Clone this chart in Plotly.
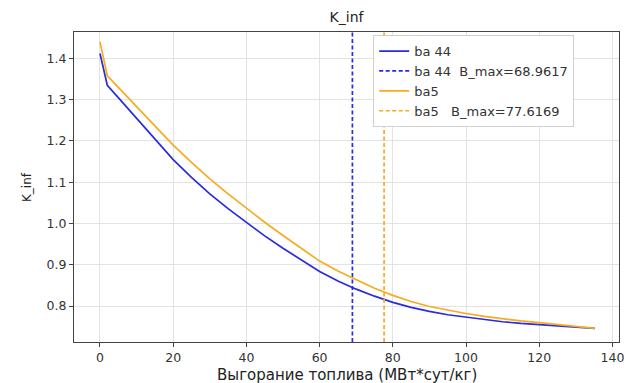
import plotly.graph_objects as go

# Burnup (MWd/kg) and k_inf values
burnup = [0, 2, 5, 10, 15, 20, 25, 30, 35, 40, 45, 50, 55, 60, 65, 70, 75,
          80, 85, 90, 95, 100, 105, 110, 115, 120, 125, 130, 135.2]
kinf_ba44 = [1.412, 1.335, 1.305, 1.255, 1.204, 1.155, 1.112, 1.072, 1.036, 1.002,
             0.970, 0.940, 0.911, 0.884, 0.861, 0.841, 0.824, 0.809, 0.797, 0.787,
             0.779, 0.773, 0.767, 0.762, 0.758, 0.755, 0.752, 0.749, 0.746]
kinf_ba5 = [1.440, 1.358, 1.330, 1.283, 1.235, 1.190, 1.148, 1.108, 1.072, 1.037,
            1.003, 0.971, 0.940, 0.909, 0.885, 0.863, 0.843, 0.826, 0.811, 0.799,
            0.790, 0.782, 0.775, 0.769, 0.764, 0.760, 0.755, 0.750, 0.746]
bmax_ba44 = 68.9617
bmax_ba5 = 77.6169

names = ["ba 44", "ba 44  B_max=68.9617", "ba5", "ba5   B_max=77.6169"]
yticks = [0.8, 0.9, 1.0, 1.1, 1.2, 1.3, 1.4]
xticks = [0, 20, 40, 60, 80, 100, 120, 140]
x_title = "Выгорание топлива (МВт*сут/кг)"
y_title = "K_inf"

BLUE = "#2a2ae0"
ORANGE = "#f7ab1f"
Y_RANGE = [0.713, 1.464]
DASH = "4px,2.5px"

W, H = 635, 383
ML, MR, MT, MB = 74, 16, 32, 41
PW, PH = W - ML - MR, H - MT - MB

fig = go.Figure()
fig.add_trace(go.Scatter(x=burnup, y=kinf_ba44, mode="lines", name=names[0],
                         line=dict(color=BLUE, width=1.7)))
fig.add_trace(go.Scatter(x=[bmax_ba44, bmax_ba44], y=Y_RANGE, mode="lines", name=names[1],
                         line=dict(color=BLUE, width=1.7, dash=DASH)))
fig.add_trace(go.Scatter(x=burnup, y=kinf_ba5, mode="lines", name=names[2],
                         line=dict(color=ORANGE, width=1.7)))
fig.add_trace(go.Scatter(x=[bmax_ba5, bmax_ba5], y=Y_RANGE, mode="lines", name=names[3],
                         line=dict(color=ORANGE, width=1.7, dash=DASH)))

axis_common = dict(showgrid=True, gridcolor="#e3e3e3", gridwidth=1,
                   showline=True, linecolor="#444", linewidth=1, mirror=True,
                   ticks="outside", ticklen=4, tickcolor="#444", zeroline=False,
                   automargin=False,
                   tickfont=dict(family="DejaVu Sans", size=12.5, color="#333"))

fig.update_layout(
    width=W, height=H,
    margin=dict(l=ML, r=MR, t=MT, b=MB),
    paper_bgcolor="white", plot_bgcolor="white",
    title=dict(text="K_inf", x=0.5, xref="paper", xanchor="center",
               y=1 - 17 / H, yanchor="middle",
               font=dict(family="DejaVu Sans", size=14, color="#222")),
    font=dict(family="DejaVu Sans", color="#222"),
    legend=dict(x=0.549, y=0.99, xanchor="left", yanchor="top",
                bgcolor="white", bordercolor="#d0d0d0", borderwidth=1,
                font=dict(family="DejaVu Sans", size=13, color="#333"),
                tracegroupgap=0),
    showlegend=True,
    annotations=[
        dict(text=x_title, xref="paper", yref="paper", x=0.5, y=-33 / PH,
             xanchor="center", yanchor="middle", showarrow=False,
             font=dict(family="DejaVu Sans", size=15, color="#222")),
        dict(text=y_title, xref="paper", yref="paper", x=-(ML - 27) / PW, y=0.5,
             xanchor="center", yanchor="middle", textangle=-90, showarrow=False,
             font=dict(family="DejaVu Sans", size=12, color="#222")),
    ],
)
fig.update_xaxes(range=[-7.1, 141.8], tickvals=xticks, **axis_common)
fig.update_yaxes(range=Y_RANGE, tickvals=yticks, tickformat=".1f", **axis_common)

fig.write_html("out.html", config={"displayModeBar": False},
               post_script="document.body.style.margin='0';document.body.style.padding='0';")
